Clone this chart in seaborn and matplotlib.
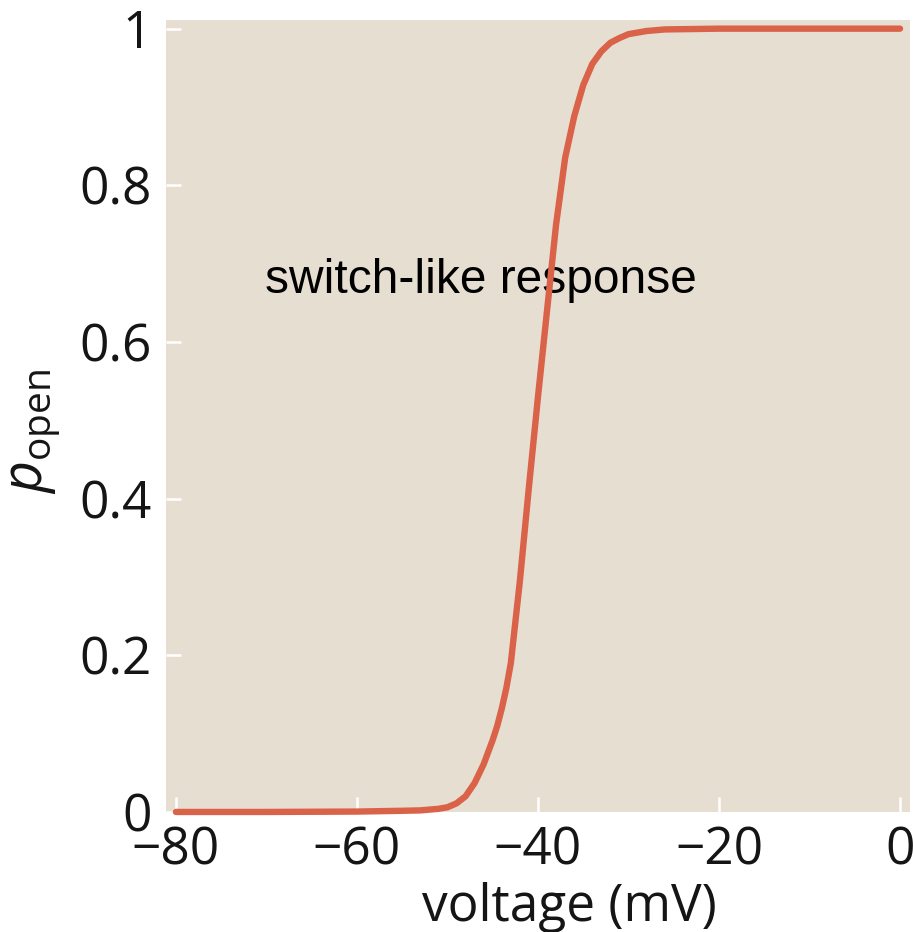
import numpy as np
import pandas as pd
import matplotlib
matplotlib.use("Agg")
import matplotlib.pyplot as plt
import seaborn as sns

# values
voltage = [-80, -70, -60, -55, -53, -51, -50, -49, -48, -47, -46, -45, -44.5,
           -44, -43.5, -43, -42, -41, -40, -39, -38, -37, -36, -35, -34, -33,
           -32, -31, -30, -28, -26, -20, -10, 0]
p_open = [0, 0, 0.0005, 0.0015, 0.002, 0.004, 0.006, 0.011, 0.02, 0.037,
          0.061, 0.092, 0.11, 0.132, 0.158, 0.19, 0.295, 0.415, 0.53, 0.64,
          0.75, 0.835, 0.888, 0.928, 0.955, 0.971, 0.982, 0.988, 0.993,
          0.997, 0.999, 1, 1, 1]

x_ticks = [-80, -60, -40, -20, 0]
x_ticklabels = ["\u221280", "\u221260", "\u221240", "\u221220", "0"]
y_ticks = [0, 0.2, 0.4, 0.6, 0.8, 1]
y_ticklabels = ["0", "0.2", "0.4", "0.6", "0.8", "1"]

df = pd.DataFrame({"voltage": voltage, "p_open": p_open})

sns.set_style("white", {"axes.facecolor": "#e6dfd1"})
plt.rcParams["font.family"] = ["Open Sans", "DejaVu Sans"]
plt.rcParams["mathtext.fontset"] = "custom"
plt.rcParams["mathtext.rm"] = "Open Sans"
plt.rcParams["mathtext.it"] = "Open Sans:italic"

fig = plt.figure(figsize=(9.13, 9.32), dpi=100)
ax = fig.add_axes([0.1818, 0.1288, 0.8149, 0.8497])

sns.lineplot(data=df, x="voltage", y="p_open", ax=ax, color="#da6249",
             linewidth=4.6, clip_on=False, zorder=3)
ax.lines[0].set_solid_joinstyle("round")

ax.text(-70.2, 0.678, "switch-like response", family="Liberation Sans",
        fontsize=34.5, va="center", ha="left", color="black", zorder=2)

ax.set_xlim(-81.1, 1.1)
ax.set_ylim(0.001, 1.011)
ax.set_xticks(x_ticks)
ax.set_xticklabels(x_ticklabels)
ax.set_yticks(y_ticks)
ax.set_yticklabels(y_ticklabels)
ax.tick_params(direction="in", length=11, width=1.8, color="white",
               labelsize=37, labelcolor="#151515", pad=10,
               left=True, bottom=True)

for s in ax.spines.values():
    s.set_visible(False)

ax.set_xlabel("voltage (mV)", fontsize=37, color="#151515")
ax.set_ylabel(r"$p_{\mathrm{open}}$", fontsize=40, color="#151515")
ax.xaxis.set_label_coords(0.542, -0.088)
ax.yaxis.set_label_coords(-0.14, 0.48)

fig.savefig("out.png", dpi=100, facecolor="white")
